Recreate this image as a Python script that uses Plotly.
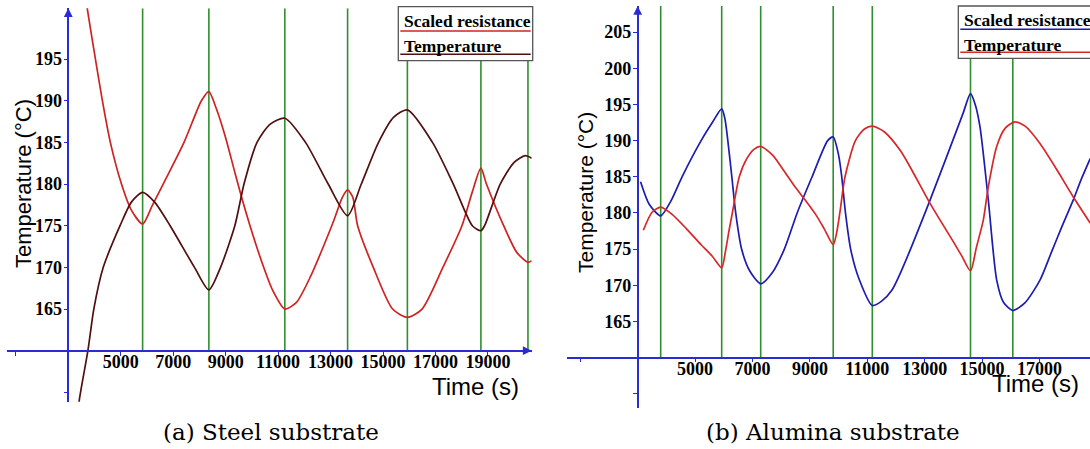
import plotly.graph_objects as go

# ---------------- data: (a) steel substrate ----------------
steel_res_t = [3650, 3703, 4034, 4299, 4603, 5028, 5400, 5834, 6200, 6618, 7413, 8076, 8360, 8650,
               9004, 9300, 9600, 9928, 10395, 10800, 11256, 11700, 12251, 12700, 13109, 13450, 13650,
               13850, 14033, 14630, 15365, 15930, 16489, 17284, 18010, 18400, 18733, 18944, 19600,
               20100, 20527, 20670]
steel_res_v = [203, 201.5, 195, 190, 185, 180, 176.9, 175.2, 177.4, 180, 185, 190, 191.1, 189,
               185.5, 182, 178.5, 175, 170.5, 167.2, 165, 165.8, 169, 172.3, 175.5, 178.4, 179.3,
               178.4, 175, 170, 165, 164, 165, 170, 175, 179, 181.9, 180, 175,
               171.8, 170.6, 170.8]

steel_temp_t = [3380, 3413, 3747, 3973, 4333, 4973, 5400, 5834, 6300, 6882, 7811, 8360, 8805, 9350,
                9560, 9700, 10197, 10700, 11256, 12045, 12910, 13650, 14173, 14829, 15400, 15930,
                16886, 17681, 18407, 18733, 18874, 19470, 20000, 20420, 20670]
steel_temp_v = [152, 153.9, 160, 165, 170, 175, 177.8, 179, 177.8, 175, 170, 167.3, 170, 175,
                178, 180, 185, 187.2, 187.9, 185, 180, 176.2, 180, 185, 188, 188.9,
                185, 180, 175, 174.4, 175, 180, 182.6, 183.4, 183.1]

steel_events = [5834, 8360, 11256, 13650, 15930, 18733, 20527]

# ---------------- data: (b) alumina substrate ----------------
alu_res_t = [3100, 3400, 3801, 4150, 4546, 5210, 5600, 5927, 6040, 6140, 6280, 6415, 6620, 6900,
             7286, 7700, 8110, 8557, 9076, 9620, 9812, 10000, 10110, 10240, 10420, 10700, 11174,
             11500, 11855, 12199, 13160, 14330, 14596, 14760, 14927, 15216, 15509, 15750, 16070,
             16500, 17017, 17410, 17770, 18178, 18440, 18767]
alu_res_v = [184.3, 181.2, 179.6, 181.6, 185, 190, 192.5, 194.4, 193.0, 190, 185, 180, 175, 172,
             170.2, 171.8, 175, 180, 185, 190, 190.5, 188, 185, 180, 175, 171, 167.2,
             167.8, 169.3, 172.1, 181.5, 193.7, 196.5, 195, 191.9, 181.8, 170.7, 167.6, 166.5,
             167.6, 170.7, 174.5, 178, 181.8, 184.5, 187.5]

alu_temp_t = [3195, 3500, 3801, 4200, 4700, 5211, 5600, 5927, 6050, 6180, 6298, 6540, 6800, 7050,
              7286, 7700, 8100, 8500, 8835, 9200, 9500, 9812, 9920, 10043, 10224, 10586, 10900,
              11174, 11600, 12139, 12458, 13160, 13970, 14300, 14596, 14800, 15042, 15216, 15509,
              15800, 16146, 16500, 17017, 17600, 18178, 18767]
alu_temp_v = [177.6, 180.1, 180.8, 179.8, 177.8, 175.6, 174, 172.4, 174.5, 177.5, 180, 185, 187.5, 188.8,
              189.2, 188, 185.8, 183.5, 181.8, 179.8, 177.8, 175.6, 177, 180, 185, 190, 191.6,
              192, 191.2, 188.7, 186.6, 181.5, 176.2, 174, 172, 175.2, 179, 183.6, 189.2,
              191.7, 192.6, 192, 189.6, 186, 182.2, 178.6]

alu_events = [3801, 5927, 7286, 9812, 11174, 14596, 16070]

x_ticks = [1000, 5000, 7000, 9000, 11000, 13000, 15000, 17000, 19000]
x_ticktext = ["", "5000", "7000", "9000", "11000", "13000", "15000", "17000", "19000"]
steel_y_ticks = [155, 165, 170, 175, 180, 185, 190, 195]
alu_y_ticks = [155, 165, 170, 175, 180, 185, 190, 195, 200, 205]

legend_labels = ["Scaled resistance", "Temperature"]
captions = ["(a) Steel substrate", "(b) Alumina substrate"]
x_title = "Time (s)"
y_title = "Temperature (°C)"

# ---------------- styling / layout ----------------
W, H = 1090, 449
AX_BLUE = "#2b2bd6"
GREEN = "#2f8f2f"
STEEL_RES = "#cf2323"
STEEL_TEMP = "#50100f"
ALU_RES = "#1c1cb0"
ALU_TEMP = "#d62828"
CROSS_X, CROSS_Y = 3000, 160

def px(x):
    return x / W

def py(y):
    return 1 - y / H

panels = [
    dict(xa="x", ya="y", xdom=[px(7.3), px(531.7)], xr=[674, 20670],
         ydom=[py(401.7), py(8.3)], yr=[153.88, 201.09],
         ypos=px(68.3), xpos=py(350.7), yticks=steel_y_ticks),
    dict(xa="x2", ya="y2", xdom=[px(567.3), 1.0], xr=[547, 18760],
         ydom=[py(408), py(6)], yr=[153.02, 208.62],
         ypos=px(637.7), xpos=py(357.5), yticks=alu_y_ticks),
]

fig = go.Figure()

series = [
    (steel_events, steel_res_t, steel_res_v, STEEL_RES, steel_temp_t, steel_temp_v, STEEL_TEMP),
    (alu_events, alu_res_t, alu_res_v, ALU_RES, alu_temp_t, alu_temp_v, ALU_TEMP),
]

SMOOTH = 0.7
for p, (ev, rt, rv, rc, tt, tv, tc) in zip(panels, series):
    gx, gy = [], []
    for t in ev:
        gx += [t, t, None]
        gy += [CROSS_Y, p["yr"][1], None]
    fig.add_trace(go.Scatter(x=gx, y=gy, mode="lines", line=dict(color=GREEN, width=1.6),
                             xaxis=p["xa"], yaxis=p["ya"], showlegend=False, hoverinfo="skip"))
    fig.add_trace(go.Scatter(x=rt, y=rv, mode="lines", name=legend_labels[0],
                             line=dict(color=rc, width=1.7, shape="spline", smoothing=SMOOTH),
                             xaxis=p["xa"], yaxis=p["ya"], showlegend=False))
    fig.add_trace(go.Scatter(x=tt, y=tv, mode="lines", name=legend_labels[1],
                             line=dict(color=tc, width=1.7, shape="spline", smoothing=SMOOTH),
                             xaxis=p["xa"], yaxis=p["ya"], showlegend=False))

tick_font = dict(family="Liberation Serif", size=18, color="black", weight="bold")

layout = dict(
    width=W, height=H, autosize=False,
    margin=dict(l=0, r=0, t=0, b=0, pad=0),
    paper_bgcolor="white", plot_bgcolor="rgba(0,0,0,0)",
    showlegend=False,
)

for i, p in enumerate(panels):
    sx = "" if i == 0 else "2"
    layout["xaxis" + sx] = dict(
        domain=p["xdom"], range=p["xr"], anchor="free", position=p["xpos"],
        showgrid=False, zeroline=False, showline=True, linecolor=AX_BLUE, linewidth=1.6,
        ticks="outside", ticklen=4, tickwidth=1.2, tickcolor=AX_BLUE,
        tickvals=x_ticks, ticktext=x_ticktext, tickfont=tick_font, ticklabelstandoff=-9,
    )
    layout["yaxis" + sx] = dict(
        domain=p["ydom"], range=p["yr"], anchor="free", position=p["ypos"],
        showgrid=False, zeroline=False, showline=True, linecolor=AX_BLUE, linewidth=1.6,
        ticks="outside", ticklen=4, tickwidth=1.2, tickcolor=AX_BLUE,
        tickvals=p["yticks"], ticktext=["" if v == 155 else str(v) for v in p["yticks"]],
        tickfont=tick_font, ticklabelstandoff=-2,
    )

fig.update_layout(**layout)

annotations = []
shapes = []

# axis arrowheads
annotations.append(dict(x=panels[0]["xr"][1], y=CROSS_Y, xref="x", yref="y", text="", showarrow=True,
                        ax=-6, ay=0, arrowhead=2, arrowsize=1.1, arrowwidth=1.6, arrowcolor=AX_BLUE))
annotations.append(dict(x=CROSS_X, y=panels[0]["yr"][1], xref="x", yref="y", text="", showarrow=True,
                        ax=0, ay=6, arrowhead=2, arrowsize=1.1, arrowwidth=1.6, arrowcolor=AX_BLUE))
annotations.append(dict(x=CROSS_X, y=panels[1]["yr"][1], xref="x2", yref="y2", text="", showarrow=True,
                        ax=0, ay=6, arrowhead=2, arrowsize=1.1, arrowwidth=1.6, arrowcolor=AX_BLUE))

# axis titles
title_font = dict(family="Liberation Sans", color="black")
annotations.append(dict(x=px(23), y=py(184), xref="paper", yref="paper", text=y_title, textangle=-90,
                        showarrow=False, font=dict(size=22, **title_font), xanchor="center", yanchor="middle"))
annotations.append(dict(x=px(585), y=py(193), xref="paper", yref="paper", text=y_title, textangle=-90,
                        showarrow=False, font=dict(size=21, **title_font), xanchor="center", yanchor="middle"))
annotations.append(dict(x=px(475), y=py(386), xref="paper", yref="paper", text=x_title,
                        showarrow=False, font=dict(size=24, **title_font), xanchor="center", yanchor="middle"))
annotations.append(dict(x=px(1035), y=py(383), xref="paper", yref="paper", text=x_title,
                        showarrow=False, font=dict(size=24, **title_font), xanchor="center", yanchor="middle"))

# captions
cap_font = dict(family="DejaVu Serif", size=23, color="black")
annotations.append(dict(x=px(271), y=py(432), xref="paper", yref="paper", text=captions[0],
                        showarrow=False, font=cap_font, xanchor="center", yanchor="middle"))
annotations.append(dict(x=px(833), y=py(432), xref="paper", yref="paper", text=captions[1],
                        showarrow=False, font=cap_font, xanchor="center", yanchor="middle"))

# legend boxes
leg_font = dict(family="Liberation Serif", size=17.5, color="black", weight="bold")
legs = [
    dict(x0=398.3, x1=532.7, y0=6.7, y1=60.7, tx=401.7, ty=[21, 46], uy=[31, 54.3],
         colors=[STEEL_RES, STEEL_TEMP]),
    dict(x0=958.3, x1=1100, y0=6, y1=58.3, tx=961.7, ty=[19.5, 44.5], uy=[29.3, 52.3],
         colors=[ALU_RES, ALU_TEMP]),
]
for lg in legs:
    shapes.append(dict(type="rect", xref="paper", yref="paper", x0=px(lg["x0"]), x1=px(lg["x1"]),
                       y0=py(lg["y1"]), y1=py(lg["y0"]), line=dict(color="#555555", width=1.3),
                       fillcolor="white", layer="above"))
    for lab, ty, uy, col in zip(legend_labels, lg["ty"], lg["uy"], lg["colors"]):
        annotations.append(dict(x=px(lg["tx"]), y=py(ty), xref="paper", yref="paper", text=lab,
                                showarrow=False, font=leg_font, xanchor="left", yanchor="middle"))
        shapes.append(dict(type="line", xref="paper", yref="paper", x0=px(lg["x0"] + 2),
                           x1=px(lg["x1"] - 2), y0=py(uy), y1=py(uy), line=dict(color=col, width=1.6),
                           layer="above"))

fig.update_layout(annotations=annotations, shapes=shapes)

fig.write_html("out.html", config={"displayModeBar": False},
               post_script="document.body.style.margin='0';document.body.style.overflow='hidden';")
